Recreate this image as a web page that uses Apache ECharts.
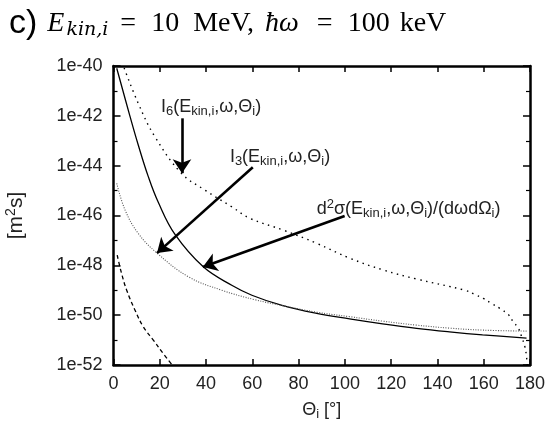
<!DOCTYPE html>
<html>
<head>
<meta charset="utf-8">
<script src="https://cdn.jsdelivr.net/npm/echarts@6/dist/echarts.min.js"></script>
<style>
html,body{margin:0;padding:0;background:#fff;}
#chart{width:547px;height:423px;}
</style>
</head>
<body>
<div id="chart"></div>
<script>
// Angles in degrees, values as log10 of [m^2 s]
const thetaSolid = [1.4, 7.1, 10.7, 15.0, 19.3, 26.5, 38.8, 51.1, 59.8, 73.2, 87.8, 102, 116.3, 131, 145.2, 159.5, 178.5];
const logSolid   = [-40.09, -42.01, -43.17, -44.43, -45.46, -46.75, -48.06, -48.80, -49.20, -49.62, -49.93, -50.15, -50.35, -50.53, -50.67, -50.79, -50.92];

const thetaI3 = [1.4, 5.0, 10.7, 18.7, 32.4, 46.8, 61.1, 73.2, 87.8, 102, 116.3, 131, 145.2, 159.5, 178.5];
const logI3   = [-44.71, -45.78, -46.72, -47.50, -48.46, -49.0, -49.38, -49.62, -49.88, -50.06, -50.24, -50.40, -50.52, -50.60, -50.64];

const thetaI6 = [4.6, 10.7, 17.9, 29.4, 39.5, 51.1, 59.1, 73.5, 87.9, 102.3, 116.7, 131, 151.9, 156.2, 159.8, 163.4, 167, 170.6, 172.8, 175, 176.4, 177.8, 178.5, 178.8];
const logI6   = [-40.08, -41.50, -42.84, -44.31, -44.98, -45.65, -46.12, -46.59, -47.12, -47.72, -48.19, -48.55, -49.0, -49.17, -49.33, -49.53, -49.73, -49.97, -50.27, -50.53, -50.87, -51.27, -51.67, -52.0];

const thetaDashed = [1.6, 3.5, 5.7, 9.3, 12.9, 17.2, 21.5, 25.1];
const logDashed   = [-47.59, -48.33, -49.0, -49.80, -50.47, -51.0, -51.54, -51.97];

const xTicks = [0, 20, 40, 60, 80, 100, 120, 140, 160, 180];

// annotation anchors (data coordinates)
const arrowFrom = [[29.6, -42.1], [60.2, -44.06], [99.9, -46.02]];
const arrowTo   = [[29.6, -44.3], [18.8, -47.51], [38.6, -48.07]];
const labelAt   = [[20.5, -41.65], [50.3, -43.65], [87.8, -45.74]];
const labelText = [
  '{t|I}{sub|6}{t|(E}{sub|kin,i}{t|,ω,Θ}{sub|i}{t|)}',
  '{t|I}{sub|3}{t|(E}{sub|kin,i}{t|,ω,Θ}{sub|i}{t|)}',
  '{t|d}{sup|2}{t|σ(E}{sub|kin,i}{t|,ω,Θ}{sub|i}{t|)/(dωdΩ}{sub|i}{t|)}'
];

const pair = (xs, ys) => xs.map((x, i) => [x, ys[i]]);

const SANS = '"Liberation Sans", Arial, Helvetica, sans-serif';
const SERIF = '"Liberation Serif", "Times New Roman", serif';
const txtRich = {
  t:   {fontFamily: SANS, fontSize: 18, color: '#222'},
  sub: {fontFamily: SANS, fontSize: 13, color: '#222', padding: [9, 0, 0, 0]},
  sup: {fontFamily: SANS, fontSize: 13, color: '#222', padding: [0, 0, 9, 0]}
};

const chart = echarts.init(document.getElementById('chart'), null, {renderer: 'canvas'});

const lineBase = {type: 'line', showSymbol: false, symbol: 'none', smooth: 0.4, animation: false, silent: true, clip: true};

const commonX = {
  type: 'value', min: 0, max: 180, interval: 20,
  splitLine: {show: false},
  axisLine: {show: true, onZero: false, lineStyle: {color: '#000', width: 2.5}},
  axisTick: {show: true, inside: true, length: 6, lineStyle: {color: '#000', width: 1.5}}
};
const commonY = {
  type: 'value', min: -52, max: -40, interval: 2,
  splitLine: {show: false},
  axisLine: {show: true, onZero: false, lineStyle: {color: '#000', width: 2.5}},
  axisTick: {show: true, inside: true, length: 7, lineStyle: {color: '#000', width: 1.5}},
  minorTick: {show: true, splitNumber: 2, length: 4, lineStyle: {color: '#000', width: 1.2}}
};

const tBase = {fontWeight: 'normal', color: '#000'};
const option = {
  backgroundColor: '#fff',
  animation: false,
  title: {
    left: 4, top: 2,
    text: '{c|c)}{m1|E}{ms|kin,i}{r1|=}{r2|10}{r3|MeV,}{m2|ħω}{r4|=}{r5|100}{r6|keV}',
    textStyle: {
      fontWeight: 'normal',
      rich: {
        c:  Object.assign({fontFamily: SANS, fontSize: 34}, tBase),
        m1: Object.assign({fontFamily: SERIF, fontStyle: 'italic', fontSize: 28, padding: [0, 0, 0, 10]}, tBase),
        ms: Object.assign({fontFamily: '"DejaVu Serif", serif', fontStyle: 'italic', fontSize: 19, padding: [12, 0, 0, 2]}, tBase),
        r1: Object.assign({fontFamily: SERIF, fontSize: 28, padding: [0, 0, 0, 12]}, tBase),
        r2: Object.assign({fontFamily: SERIF, fontSize: 28, padding: [0, 0, 0, 15]}, tBase),
        r3: Object.assign({fontFamily: SERIF, fontSize: 28, padding: [0, 0, 0, 14]}, tBase),
        m2: Object.assign({fontFamily: SERIF, fontStyle: 'italic', fontSize: 28, padding: [0, 0, 0, 11]}, tBase),
        r4: Object.assign({fontFamily: SERIF, fontSize: 28, padding: [0, 0, 0, 18]}, tBase),
        r5: Object.assign({fontFamily: SERIF, fontSize: 28, padding: [0, 0, 0, 15]}, tBase),
        r6: Object.assign({fontFamily: SERIF, fontSize: 28, padding: [0, 0, 0, 10]}, tBase)
      }
    }
  },
  grid: {left: 113.5, right: 17, top: 66, bottom: 58, containLabel: false, outerBoundsMode: 'none'},
  xAxis: [
    Object.assign({}, commonX, {
      position: 'bottom',
      axisLabel: {show: true, fontFamily: SANS, fontSize: 18, color: '#222', margin: 10,
        customValues: xTicks, formatter: v => String(v)},
      name: '{t|Θ}{sub|i}{t| [°]}',
      nameLocation: 'middle', nameGap: 34,
      nameTextStyle: {rich: txtRich}
    }),
    Object.assign({}, commonX, {position: 'top', axisLabel: {show: false}})
  ],
  yAxis: [
    Object.assign({}, commonY, {
      position: 'left',
      axisLabel: {show: true, fontFamily: SANS, fontSize: 18, color: '#222', margin: 11,
        formatter: v => '1e' + v},
      name: '{a|[m}{p|2}{a|s]}',
      nameLocation: 'middle', nameGap: 85, nameRotate: 90,
      nameTextStyle: {rich: {
        a: {fontFamily: SANS, fontSize: 21, color: '#222'},
        p: {fontFamily: SANS, fontSize: 14, color: '#222', padding: [0, 0, 10, 0]}
      }}
    }),
    Object.assign({}, commonY, {position: 'right', axisLabel: {show: false}})
  ],
  series: [
    Object.assign({}, lineBase, {
      name: 'd2sigma',
      data: pair(thetaSolid, logSolid),
      lineStyle: {color: '#000', width: 1.3, type: 'solid'},
      markLine: {
        silent: true, animation: false,
        symbol: ['none', 'arrow'], symbolSize: 14,
        label: {show: false},
        lineStyle: {color: '#000', width: 2.6, type: 'solid'},
        itemStyle: {color: '#000'},
        emphasis: {disabled: true},
        data: arrowFrom.map((p, i) => [{coord: p}, {coord: arrowTo[i]}])
      },
      markPoint: {
        silent: true, animation: false,
        symbol: 'circle', symbolSize: 0,
        itemStyle: {color: 'rgba(0,0,0,0)'},
        label: {show: true, position: 'right', distance: 0, rich: txtRich},
        data: labelAt.map((p, i) => ({coord: p, value: 0, label: {formatter: labelText[i]}}))
      }
    }),
    Object.assign({}, lineBase, {
      name: 'I3',
      data: pair(thetaI3, logI3),
      lineStyle: {color: '#555', width: 1.1, type: [1, 1.5]}
    }),
    Object.assign({}, lineBase, {
      name: 'I6',
      data: pair(thetaI6, logI6),
      lineStyle: {color: '#000', width: 1.4, type: [1.5, 4.5]}
    }),
    Object.assign({}, lineBase, {
      name: 'dashed',
      data: pair(thetaDashed, logDashed),
      lineStyle: {color: '#000', width: 1.3, type: [4, 3]}
    })
  ]
};
chart.setOption(option);
</script>
</body>
</html>
